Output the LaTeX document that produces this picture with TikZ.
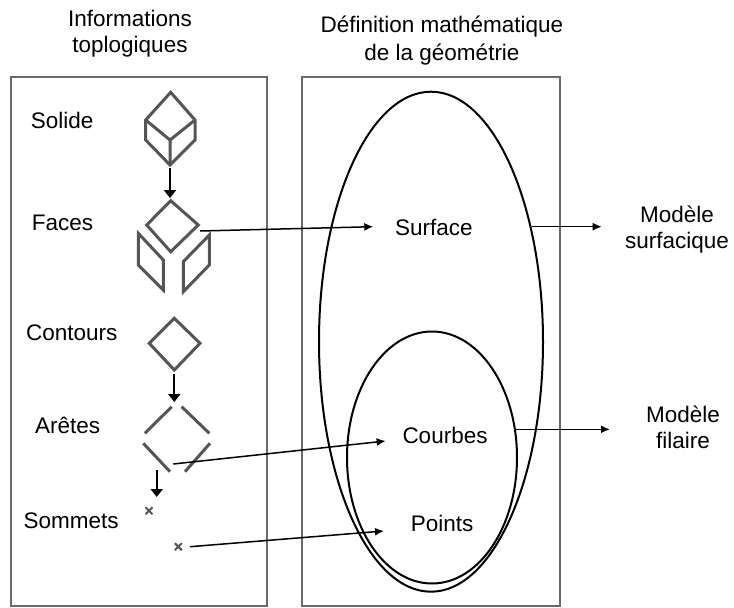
\documentclass[tikz,border=0pt]{standalone}
\usepackage{fontspec}
\setmainfont{Liberation Sans}
\usetikzlibrary{arrows.meta,shapes.geometric}
\definecolor{boxgray}{RGB}{105,105,105}
\definecolor{icongray}{RGB}{85,85,85}
\begin{document}
\begin{tikzpicture}[x=1pt,y=-1pt,
  lbl/.style={inner sep=0pt, anchor=base west, font=\fontsize{22.5}{26}\selectfont},
  ttl/.style={inner sep=0pt, anchor=north, align=center, font=\fontsize{22.5}{26}\selectfont},
  ttlb/.style={inner sep=0pt, anchor=north, align=center, font=\fontsize{22.5}{28.5}\selectfont},
  panel/.style={draw=boxgray, line width=1.6pt},
  icon/.style={draw=icongray, line width=3pt, line join=miter},
  xmarkstyle/.style={draw=icongray, line width=2pt},
  conn/.style={draw=black, line width=1.5pt, -{Latex[length=9pt,width=8pt]}},
  downarr/.style={draw=black, line width=2pt, -{Triangle[length=8pt,width=12pt]}},
  ell/.style={draw=black, line width=2pt, ellipse, inner sep=0pt},
]
\useasboundingbox (0,0) rectangle (734,608);

% titles
\node[ttl] (ttlL) at (130,10.3) {Informations\\toplogiques};
\node[ttlb] (ttlR) at (442,15.3) {Définition mathématique\\de la géométrie};

% panels
\draw[panel] (11,77) rectangle (267,606);
\draw[panel] (302,77) rectangle (560,606);

% left labels
\node[lbl] (solide) at (30.7,128.3) {Solide};
\node[lbl] (faces) at (31.7,230) {Faces};
\node[lbl] (contours) at (26,340) {Contours};
\node[lbl] (aretes) at (35,433.3) {Arêtes};
\node[lbl] (sommets) at (23.3,528.3) {Sommets};

% solid cube icon
\draw[icon] (170.7,92.3) -- (195,120) -- (195,140) -- (170,165) -- (145.7,140) -- (145.7,120) -- cycle;
\draw[icon] (145.7,120) -- (170,140) -- (195,120) (170,140) -- (170,165);

% faces icon
\draw[icon] (170.7,200.7) -- (198.3,225) -- (170.7,251.7) -- (146.7,225) -- cycle;
\draw[icon] (138.3,233.3) -- (138.3,265) -- (163.3,290) -- (163.3,260) -- cycle;
\draw[icon] (209.3,235) -- (209.3,265) -- (183.3,291.7) -- (183.3,261.7) -- cycle;

% contours icon
\draw[icon] (174.3,318.3) -- (200,343.3) -- (174.3,370) -- (149.3,343.3) -- cycle;

% aretes icon
\draw[icon] (145,433.3) -- (171.7,406.7);
\draw[icon] (181.7,406.7) -- (209.3,433.3);
\draw[icon] (143.3,443.3) -- (170,471.7);
\draw[icon] (210,443.3) -- (185,471.7);

% sommets icon
\draw[xmarkstyle] (145.5,507.2) -- (152.5,514.2) (145.5,514.2) -- (152.5,507.2);
\draw[xmarkstyle] (174.8,543.2) -- (181.8,550.2) (174.8,550.2) -- (181.8,543.2);

% down arrows between levels
\coordinate (a1s) at (170,168);
\coordinate (a1e) at (170,198);
\coordinate (a2s) at (174.3,374);
\coordinate (a2e) at (174.3,402);
\coordinate (a3s) at (156.7,470);
\coordinate (a3e) at (156.7,497);
\draw[downarr] (a1s) -- (a1e);
\draw[downarr] (a2s) -- (a2e);
\draw[downarr] (a3s) -- (a3e);

% ellipses
\node[ell, minimum width=224pt, minimum height=500pt] (bigell) at (431,341.7) {};
\node[ell, minimum width=170pt, minimum height=252pt] (smallell) at (432,457.5) {};

% geometry labels
\node[lbl] (surface) at (395,235.7) {Surface};
\node[lbl] (courbes) at (402.3,443.3) {Courbes};
\node[lbl] (points) at (410.7,531.7) {Points};

% model labels
\node[ttl] (msurf) at (677,205.3) {Modèle\\surfacique};
\node[ttl] (mfil) at (683,405.3) {Modèle\\filaire};

% connectors
\coordinate (facesR) at (200,231);
\coordinate (surfTip) at (373.3,226.7);
\coordinate (aretesR) at (173.3,464);
\coordinate (courbTip) at (385.7,441);
\coordinate (sommR) at (190,546.7);
\coordinate (ptsTip) at (384,531);
\coordinate (bigR) at (531.7,226.7);
\coordinate (surfOut) at (601.7,226.7);
\coordinate (smallR) at (516,429.3);
\coordinate (filOut) at (610,429.3);
\draw[conn] (facesR) -- (surfTip);
\draw[conn] (aretesR) -- (courbTip);
\draw[conn] (sommR) -- (ptsTip);
\draw[conn] (bigR) -- (surfOut);
\draw[conn] (smallR) -- (filOut);
\end{tikzpicture}
\end{document}
